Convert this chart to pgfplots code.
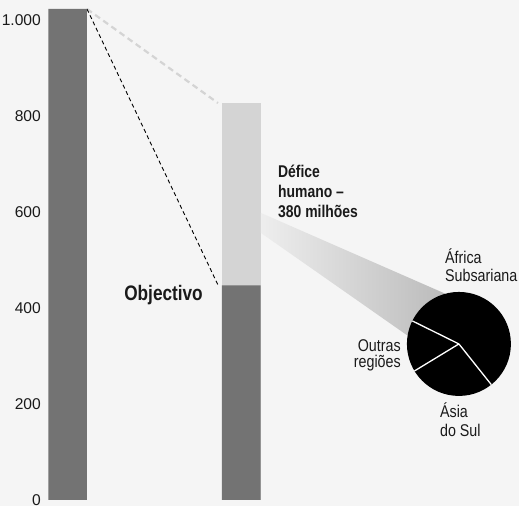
\documentclass[border=0pt]{standalone}
\usepackage{fontspec}
\setmainfont{Liberation Sans}
\newfontfamily\condfont[FakeStretch=0.84]{Liberation Sans}
\newfontfamily\condbfont[FakeStretch=0.82]{Liberation Sans Bold}
\usepackage{pgfplots}
\pgfplotsset{compat=1.18}
\definecolor{bg}{HTML}{F5F5F5}
\definecolor{barDark}{HTML}{737373}
\definecolor{barLight}{HTML}{D4D4D4}
\definecolor{txt}{HTML}{1A1A1A}
\begin{document}
\begin{tikzpicture}[x=1pt,y=1pt]
\fill[bg] (0,0) rectangle (519,506);
\begin{axis}[
  at={(44pt,0pt)}, anchor=south west,
  scale only axis, width=475pt, height=506pt,
  xmin=44, xmax=519, ymin=-12.5, ymax=1041.7,
  clip=false,
  axis line style={draw=none},
  xtick=\empty,
  ytick={0,200,400,600,800,1000},
  major tick length=0pt,
  /pgf/number format/assume math mode=true,
  /pgf/number format/1000 sep={.},
  yticklabel style={anchor=east, inner sep=0pt, xshift=-3pt,
    font=\fontsize{15.6}{16}\selectfont, text=txt},
]
% bars: light = total (goal + deficit 380), dark = bar values
\addplot[ybar, bar width=38.7, bar shift=0pt, fill=barLight, draw=none]
  coordinates {(241.35,827)};
\addplot[ybar, bar width=38.7, bar shift=0pt, fill=barDark, draw=none]
  coordinates {(67.65,1023) (241.35,447)};
% dashed connectors
\addplot[barLight, line width=2.2pt, dash pattern=on 6pt off 4pt]
  coordinates {(87,1023) (218,827)};
\addplot[black, line width=0.9pt, dash pattern=on 4pt off 3pt]
  coordinates {(87,1023) (218,448)};
% gradient wedge
\shade[left color=bg!97!black, right color=black!28]
  (axis cs:261,597.9) -- (axis cs:445.5,429.6) -- (axis cs:459,325)
  -- (axis cs:406.7,343.75) -- (axis cs:261,556.25) -- cycle;
% pie: Africa 57, Others 16, South Asia 27 (start -51.5 deg)
\fill[black] (axis cs:459,325) circle (52pt);
\draw[white, line width=1.3pt] (axis cs:459,325) -- ++({-51.5}:52pt);
\draw[white, line width=1.3pt] (axis cs:459,325) -- ++({-51.5+3.6*57}:52pt);
\draw[white, line width=1.3pt] (axis cs:459,325) -- ++({-51.5+3.6*(57+16)}:52pt);
% labels
\node[anchor=base east, inner sep=0pt, text=txt, font=\condbfont\fontsize{21}{21}\selectfont] at (axis cs:203,414.6) {Objectivo};
\node[anchor=base west, inner sep=0pt, text=txt, font=\condbfont\fontsize{17}{17}\selectfont] at (axis cs:278,671.5) {Défice};
\node[anchor=base west, inner sep=0pt, text=txt, font=\condbfont\fontsize{17}{17}\selectfont] at (axis cs:278,629.8) {humano –};
\node[anchor=base west, inner sep=0pt, text=txt, font=\condbfont\fontsize{17}{17}\selectfont] at (axis cs:278,588.1) {380 milhões};
\node[anchor=base west, inner sep=0pt, text=txt, font=\condfont\fontsize{17}{17}\selectfont] at (axis cs:445,493.1) {África};
\node[anchor=base west, inner sep=0pt, text=txt, font=\condfont\fontsize{17}{17}\selectfont] at (axis cs:445,454.8) {Subsariana};
\node[anchor=base east, inner sep=0pt, text=txt, font=\condfont\fontsize{17}{17}\selectfont] at (axis cs:401,308.3) {Outras};
\node[anchor=base east, inner sep=0pt, text=txt, font=\condfont\fontsize{17}{17}\selectfont] at (axis cs:401,275) {regiões};
\node[anchor=base west, inner sep=0pt, text=txt, font=\condfont\fontsize{17}{17}\selectfont] at (axis cs:440,171.9) {Ásia};
\node[anchor=base west, inner sep=0pt, text=txt, font=\condfont\fontsize{17}{17}\selectfont] at (axis cs:440,132.3) {do Sul};
\end{axis}
\end{tikzpicture}
\end{document}
